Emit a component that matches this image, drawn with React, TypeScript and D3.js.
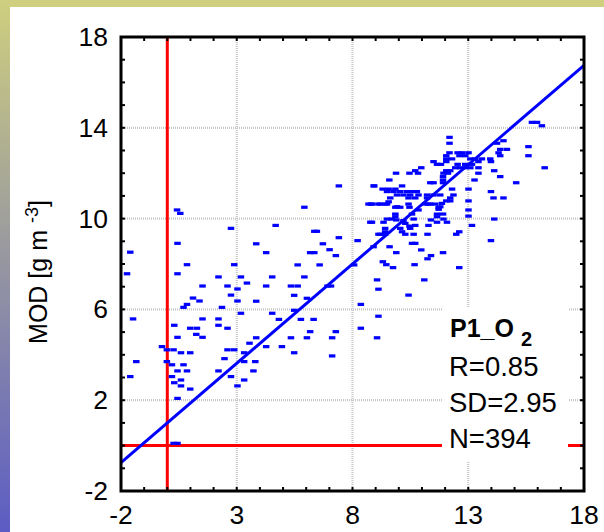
import React from 'react';
import * as d3 from 'd3';

const lowScatter: [number, number][] = [
  [0.41, 10.38], [0.55, 10.23], [2.74, 9.57], [0.43, 8.91], [-1.61, 8.52],
  [0.84, 7.97], [2.88, 7.97], [-1.75, 7.57], [0.43, 7.57], [2.2, 7.43],
  [3.17, 7.43], [3.43, 7.16], [1.51, 7.03], [2.59, 7.03], [3.02, 6.9],
  [2.74, 6.63], [1.1, 6.5], [1.38, 6.37], [3.02, 6.37], [0.84, 6.22],
  [0.69, 6.09], [2.35, 6.09], [3.17, 5.83], [-1.49, 5.58], [1.51, 5.58],
  [2.2, 5.58], [0.29, 5.3], [2.2, 5.3], [0.98, 5.17], [1.27, 5.17],
  [2.59, 5.17], [1.24, 4.9], [1.51, 4.77], [0.43, 4.77], [-0.24, 4.36],
  [-0.03, 4.22], [0.26, 4.22], [2.59, 4.22], [2.88, 4.22], [0.58, 4.09],
  [0.98, 4.09], [3.31, 4.09], [3.54, 4.51], [2.46, 3.83], [-1.35, 3.7],
  [-0.03, 3.7], [3.31, 3.7], [0.19, 3.56], [0.69, 3.56], [0.43, 3.29],
  [0.84, 3.29], [2.2, 3.29], [-1.61, 3.04], [0.19, 3.04], [2.74, 3.04],
  [0.58, 2.89], [0.29, 2.77], [3.31, 2.89], [0.58, 2.63], [3.02, 2.63],
  [0.98, 2.49], [0.43, 2.08], [0.26, 0.1], [0.43, 0.1],
];

const midScatter: [number, number][] = [
  [7.4, 11.44], [8.9, 11.44], [5.91, 10.5], [8.68, 10.64], [8.79, 10.64],
  [9.11, 10.64], [4.67, 9.7], [8.76, 9.84], [6.34, 9.44], [6.45, 9.44],
  [7.4, 9.16], [8.21, 9.03], [9.11, 9.31], [3.83, 8.89], [6.71, 8.89],
  [7.0, 8.63], [4.26, 8.5], [6.16, 8.5], [6.34, 8.5], [7.27, 8.37],
  [8.9, 8.76], [5.62, 7.96], [6.57, 7.96], [8.06, 7.96], [4.52, 7.43],
  [5.91, 7.43], [9.05, 7.3], [4.26, 7.03], [5.33, 7.03], [5.62, 7.03],
  [6.91, 7.03], [7.06, 7.03], [9.11, 6.89], [5.47, 6.62], [6.02, 6.49],
  [3.83, 6.36], [8.35, 6.22], [5.47, 5.96], [4.52, 5.83], [9.11, 5.7],
  [4.81, 5.56], [5.76, 5.56], [6.31, 5.56], [8.35, 5.17], [6.16, 5.02],
  [7.27, 5.02], [3.83, 4.75], [5.33, 4.75], [6.02, 4.75], [7.11, 4.75],
  [9.05, 4.75], [4.26, 4.36], [4.94, 4.36], [5.47, 4.09], [7.11, 3.95],
  [3.79, 3.7], [3.71, 3.29],
];

const highScatter: [number, number][] = [
  [15.74, 14.24], [15.96, 14.24], [16.17, 14.09], [12.18, 13.58], [12.18, 13.32],
  [14.51, 13.43], [14.23, 13.32], [15.59, 13.17], [12.18, 12.9], [12.53, 12.9],
  [12.72, 12.9], [13.0, 12.9], [14.37, 13.05], [14.66, 13.05], [14.3, 12.9],
  [15.59, 12.77], [14.37, 12.77], [12.04, 12.77], [12.61, 12.77], [12.86, 12.77],
  [12.04, 12.63], [12.29, 12.63], [12.04, 12.51], [13.08, 12.63], [13.29, 12.63],
  [13.58, 12.63], [13.94, 12.63], [11.49, 12.51], [11.64, 12.39], [11.81, 12.39],
  [12.53, 12.39], [12.86, 12.39], [13.15, 12.39], [13.43, 12.51], [13.97, 12.51],
  [15.06, 11.58], [16.29, 12.24], [12.04, 12.11], [12.21, 12.11], [12.43, 12.24],
  [12.64, 12.24], [12.86, 12.24], [13.08, 12.24], [13.43, 12.24], [10.96, 12.24],
  [10.7, 12.11], [14.11, 12.11], [10.45, 12.0], [10.82, 12.0], [11.92, 12.0],
  [12.11, 12.0], [9.87, 12.0], [13.43, 12.0], [14.37, 11.85], [11.9, 11.85],
  [11.9, 11.7], [9.58, 11.7], [13.26, 11.7], [11.49, 11.58], [11.35, 11.58],
  [11.9, 11.58], [8.93, 11.44], [9.29, 11.3], [9.55, 11.3], [9.84, 11.3],
  [10.13, 11.44], [12.29, 11.3], [13.0, 11.3], [9.48, 11.19], [9.76, 11.19],
  [10.05, 11.19], [10.34, 11.19], [10.56, 11.19], [10.77, 11.19], [13.97, 11.19],
  [9.91, 11.04], [10.19, 11.04], [10.48, 11.04], [10.84, 11.04], [11.21, 11.04],
  [11.49, 11.04], [11.78, 11.04], [12.35, 11.04], [9.62, 10.91], [10.41, 10.91],
  [10.7, 10.91], [11.21, 10.91], [12.21, 10.91], [14.08, 10.91], [14.51, 10.91],
  [9.19, 10.64], [9.48, 10.64], [9.84, 10.5], [10.05, 10.5], [10.41, 10.64],
  [11.27, 10.64], [11.56, 10.64], [12.04, 10.78], [12.21, 10.78], [11.71, 10.5],
  [13.0, 10.78], [10.45, 10.5], [8.83, 10.64], [9.4, 10.64], [9.55, 10.74],
  [9.91, 10.52], [11.13, 10.64], [11.35, 10.64], [11.78, 10.52], [11.85, 10.67],
  [11.71, 10.41], [13.0, 10.38], [9.84, 10.2], [9.84, 10.08], [10.56, 10.2],
  [10.84, 10.38], [11.64, 10.2], [11.9, 10.2], [11.64, 10.08], [13.0, 10.11],
  [9.48, 9.98], [9.69, 9.98], [9.88, 9.94], [10.19, 9.91], [10.63, 9.98],
  [11.38, 9.94], [11.92, 9.98], [14.11, 9.98], [8.83, 9.84], [9.33, 9.84],
  [10.27, 9.79], [10.45, 9.67], [10.7, 9.7], [11.27, 9.7], [11.64, 9.84],
  [12.07, 9.84], [13.15, 9.7], [9.4, 9.57], [9.4, 9.42], [10.05, 9.57],
  [10.48, 9.57], [10.13, 9.42], [9.19, 9.31], [9.4, 9.31], [10.27, 9.31],
  [10.63, 9.31], [11.23, 9.31], [12.6, 9.42], [12.47, 9.31], [13.97, 9.03],
  [10.56, 8.91], [10.7, 8.91], [9.59, 8.76], [10.96, 8.62], [11.9, 8.5],
  [9.88, 8.5], [11.38, 8.37], [11.23, 8.23], [9.3, 8.1], [9.45, 7.97],
  [9.74, 7.84], [10.67, 7.97], [12.6, 7.84], [11.09, 7.3], [10.41, 6.63],
];

const xTicks = [-2, 3, 8, 13, 18];
const yTicks = [-2, 2, 6, 10, 14, 18];
const fitSlope = 0.875;
const fitIntercept = 1.0;
const statLines = ['R=0.85', 'SD=2.95', 'N=394'];

const W = 604, H = 532;
const FONT = 'Liberation Sans, Arial, Helvetica, sans-serif';

export default function App() {
  const x = d3.scaleLinear().domain([-2, 18]).range([121, 584]);
  const y = d3.scaleLinear().domain([-2, 18]).range([491, 37]);
  const [x0, x1] = x.range();
  const [y0, y1] = y.range();

  const minor = d3.range(-2, 19, 1);
  const points = [...lowScatter, ...midScatter, ...highScatter];

  const fitLine = d3.line<number>()
    .x(d => x(d))
    .y(d => y(fitSlope * d + fitIntercept));

  return (
    <svg width={W} height={H} style={{ position: 'absolute', left: 0, top: 0 }}>
      <defs>
        <linearGradient id="side" x1="0" y1="0" x2="0" y2="1">
          <stop offset="0" stopColor="#cfcf7f" />
          <stop offset="1" stopColor="#5c5cc4" />
        </linearGradient>
      </defs>
      <rect x={0} y={0} width={W} height={H} fill="#ffffff" />
      <rect x={0} y={0} width={W} height={7} fill="#cfcf7f" />
      <rect x={0} y={0} width={10} height={H} fill="url(#side)" />

      {/* grid */}
      {xTicks.filter(t => t > -2).map(t => (
        <line key={'gx' + t} x1={x(t)} x2={x(t)} y1={y0} y2={y1}
          stroke="#c8c8c8" strokeWidth={2.2} strokeDasharray="1 1" />
      ))}
      {yTicks.filter(t => t > -2).map(t => (
        <line key={'gy' + t} x1={x0} x2={x1} y1={y(t)} y2={y(t)}
          stroke="#c8c8c8" strokeWidth={2.2} strokeDasharray="1 1" />
      ))}

      {/* zero lines */}
      <line x1={x(0)} x2={x(0)} y1={y0} y2={y1} stroke="#ff0000" strokeWidth={3} />
      <line x1={x0} x2={x1} y1={y(0)} y2={y(0)} stroke="#ff0000" strokeWidth={3} />

      {points.map((d, i) => (
        <rect key={i} x={x(d[0]) - 3} y={y(d[1]) - 1.6} width={6.5} height={3.2} fill="#0000ff" />
      ))}

      <path d={fitLine([-2, 18]) ?? ''} stroke="#0000ff" strokeWidth={3} fill="none" />

      {/* stats box */}
      <rect x={442} y={308} width={126} height={154} fill="#ffffff" />
      <text x={450} y={337} fontFamily={FONT} fontSize={25} fontWeight="bold" fill="#000">
        P1_O<tspan dx={7} dy={9} fontSize={20}>2</tspan>
      </text>
      {statLines.map((s, i) => (
        <text key={s} x={449} y={375.5 + i * 36.3} fontFamily={FONT} fontSize={27.5} fill="#000">{s}</text>
      ))}

      {/* ticks */}
      {minor.map(t => (
        <g key={'t' + t} stroke="#000" strokeWidth={2}>
          <line x1={x(t)} x2={x(t)} y1={y0} y2={y0 - 4} />
          <line x1={x(t)} x2={x(t)} y1={y1} y2={y1 + 4} />
          <line x1={x0} x2={x0 + 4} y1={y(t)} y2={y(t)} />
          <line x1={x1} x2={x1 - 4} y1={y(t)} y2={y(t)} />
        </g>
      ))}
      <rect x={x0} y={y1} width={x1 - x0} height={y0 - y1} fill="none" stroke="#000" strokeWidth={3} />

      {xTicks.map(t => (
        <text key={'xl' + t} x={x(t)} y={524} textAnchor="middle" fontFamily={FONT} fontSize={26.5}>{t}</text>
      ))}
      {yTicks.map(t => (
        <text key={'yl' + t} x={108} y={y(t) + 9} textAnchor="end" fontFamily={FONT} fontSize={26.5}>{t}</text>
      ))}

      <text transform="translate(47,272) rotate(-90)" textAnchor="middle" fontFamily={FONT} fontSize={25}>
        MOD [g m <tspan dy={-9} fontSize={18}>-3</tspan><tspan dy={9}>]</tspan>
      </text>
    </svg>
  );
}
